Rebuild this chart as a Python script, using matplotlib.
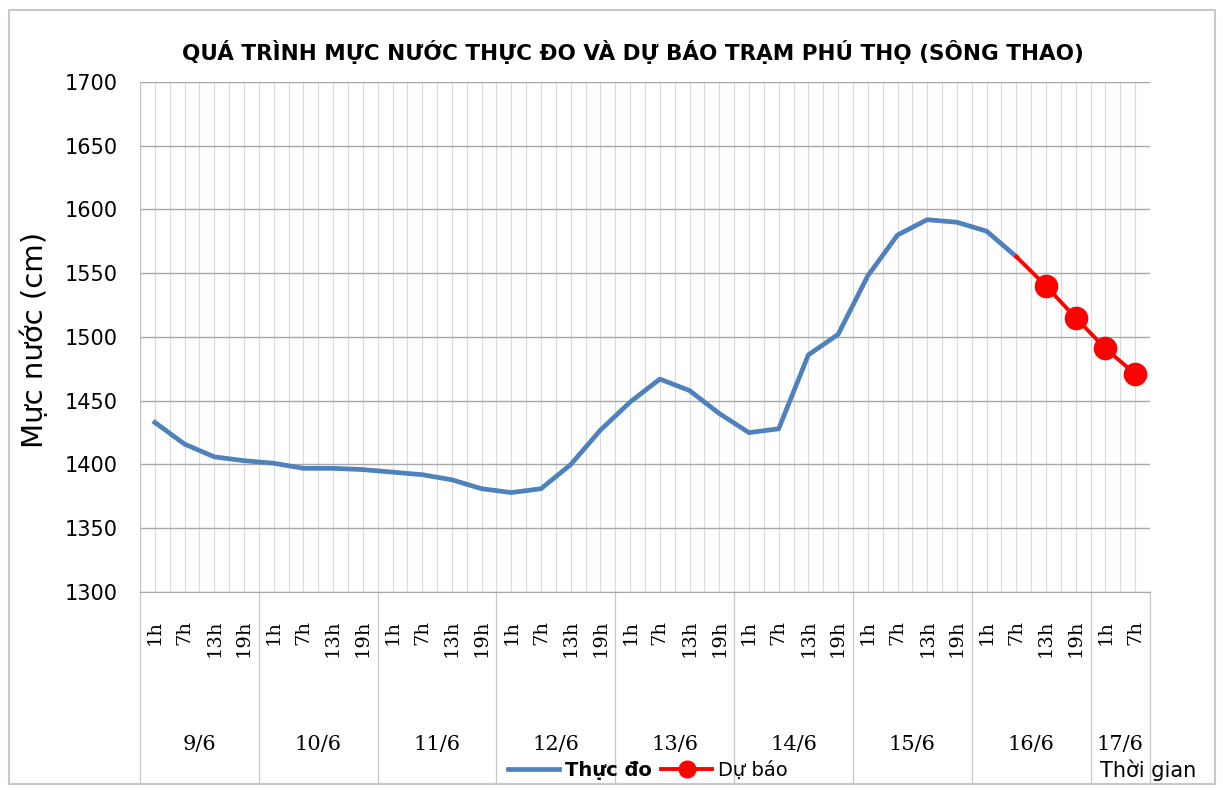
import numpy as np
import matplotlib.pyplot as plt
from matplotlib.patches import Rectangle

days = ['9/6', '10/6', '11/6', '12/6', '13/6', '14/6', '15/6', '16/6', '17/6']
hours = ['1h', '7h', '13h', '19h']
n_hours_last = 2

thuc_do = [1433, 1416, 1406, 1403, 1401, 1397, 1397, 1396, 1394, 1392,
           1388, 1381, 1378, 1381, 1400, 1427, 1449, 1467, 1458, 1440,
           1425, 1428, 1486, 1502, 1548, 1580, 1592, 1590, 1583, 1563]
du_bao = [1563, 1540, 1515, 1491, 1471]
du_bao_start = 29

tick_labels = []
for d in days[:-1]:
    tick_labels += hours
tick_labels += hours[:n_hours_last]
n = len(tick_labels)

fig = plt.figure(figsize=(12.23, 7.9), dpi=100)
ax = fig.add_axes([140 / 1223, 1 - 592 / 790, 1010 / 1223, 510 / 790])

x_obs = np.arange(len(thuc_do))
x_fc = np.arange(du_bao_start, du_bao_start + len(du_bao))

# grid
for k in np.arange(-0.5, n, 0.5):
    ax.axvline(k, color='#dadada', lw=0.8, zorder=0)
ax.set_yticks(np.arange(1300, 1701, 50))
ax.yaxis.grid(True, color='#a8a8a8', lw=1.0, zorder=0)

ax.plot(x_obs, thuc_do, color='#4F81BD', lw=3.4, solid_joinstyle='round', label='Thực đo', zorder=3)
ax.plot(x_fc, du_bao, color='#FF0000', lw=2.8, zorder=4)
ax.plot(x_fc[1:], du_bao[1:], 'o', color='#FF0000', ms=16, zorder=5)
# legend proxy
ax.plot([], [], color='#FF0000', lw=2.8, marker='o', ms=12, label='Dự báo')

ax.set_xlim(-0.5, n - 0.5)
ax.set_ylim(1300, 1700)
ax.set_xticks(np.arange(n))
ax.set_xticklabels(tick_labels, rotation=90, family='DejaVu Serif', fontsize=14)
ax.tick_params(axis='x', length=0, pad=20)
ax.tick_params(axis='y', length=0, pad=16, labelsize=15)
for s in ['top', 'right']:
    ax.spines[s].set_visible(False)
ax.spines['left'].set_color('#c0c0c0')
ax.spines['bottom'].set_color('#a8a8a8')

# day separators and labels below the axis
tr = ax.get_xaxis_transform()
bounds = [-0.5]
for i, d in enumerate(days):
    start = i * 4 - 0.5
    end = min(start + 4, n - 0.5)
    bounds.append(end)
    ax.text((start + end) / 2, -(745 - 592) / 510, d, transform=tr, ha='center', va='center',
            family='DejaVu Serif', fontsize=15)
for b in bounds:
    ax.plot([b, b], [0, -(783 - 592) / 510], transform=tr, color='#c8c8c8', lw=0.9, clip_on=False)

fig.text(633 / 1223, 1 - 52 / 790, 'QUÁ TRÌNH MỰC NƯỚC THỰC ĐO VÀ DỰ BÁO TRẠM PHÚ THỌ (SÔNG THAO)',
         ha='center', va='center', fontsize=15.5, fontweight='bold')
fig.text(35 / 1223, 1 - 340 / 790, 'Mực nước (cm)', rotation=90, ha='center', va='center', fontsize=21)
fig.text(1148 / 1223, 1 - 770 / 790, 'Thời gian', ha='center', va='center', fontsize=15)

leg = fig.legend(loc='center', bbox_to_anchor=(648 / 1223, 1 - 770 / 790), ncol=2, frameon=False,
                 handlelength=2.6, columnspacing=0.5, handletextpad=0.3, prop={'size': 14})
leg.get_texts()[0].set_fontweight('bold')

fig.patches.append(Rectangle((9 / 1223, 1 - 784 / 790), 1206 / 1223, 774 / 790,
                             transform=fig.transFigure, fill=False, edgecolor='#c8c8c8', lw=1.5))

fig.savefig('out.png', dpi=100)
